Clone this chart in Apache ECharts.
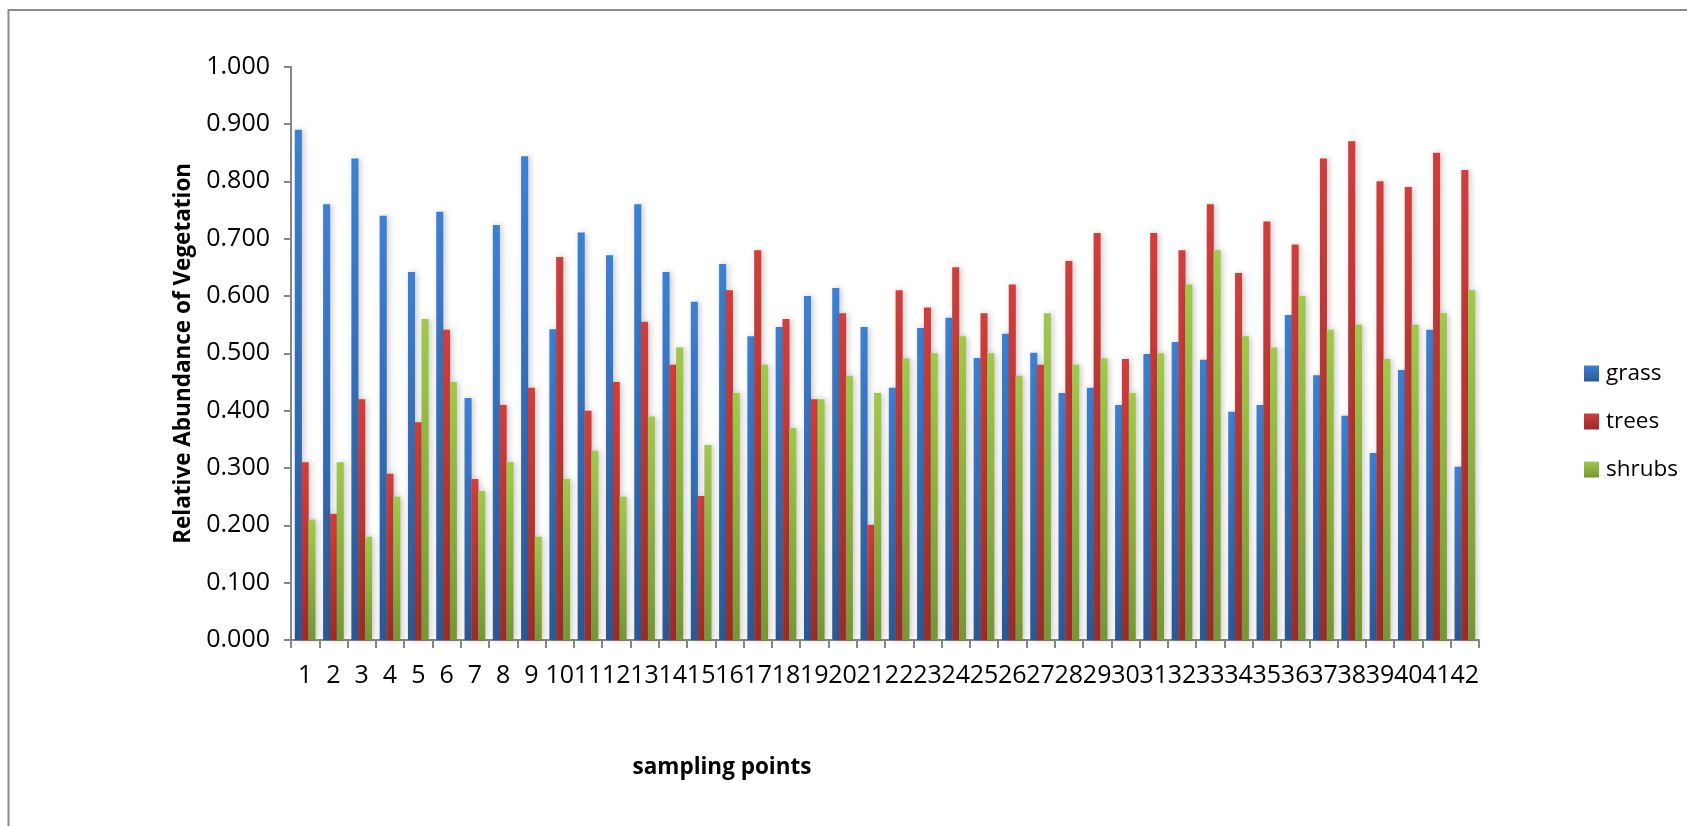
<!DOCTYPE html>
<html>
<head>
<meta charset="utf-8">
<script src="https://cdn.jsdelivr.net/npm/echarts@6/dist/echarts.min.js"></script>
<style>
html,body{margin:0;padding:0;background:#fff;}
#chart{width:1687px;height:826px;}
</style>
</head>
<body>
<div id="chart"></div>
<script>
const categories = ['1','2','3','4','5','6','7','8','9','10','11','12','13','14','15','16','17','18','19','20','21','22','23','24','25','26','27','28','29','30','31','32','33','34','35','36','37','38','39','40','41','42'];
const grass = [0.890,0.760,0.840,0.740,0.642,0.747,0.422,0.724,0.844,0.542,0.711,0.671,0.760,0.642,0.590,0.656,0.530,0.546,0.600,0.614,0.546,0.440,0.544,0.562,0.492,0.534,0.501,0.431,0.440,0.410,0.499,0.520,0.489,0.398,0.410,0.567,0.462,0.391,0.326,0.471,0.541,0.302];
const trees = [0.310,0.220,0.420,0.290,0.380,0.541,0.281,0.410,0.440,0.668,0.400,0.450,0.555,0.480,0.251,0.610,0.680,0.560,0.420,0.570,0.201,0.610,0.580,0.650,0.570,0.620,0.480,0.661,0.710,0.490,0.710,0.680,0.760,0.640,0.730,0.690,0.840,0.870,0.800,0.790,0.850,0.820];
const shrubs = [0.210,0.310,0.180,0.250,0.560,0.450,0.260,0.310,0.180,0.281,0.330,0.250,0.390,0.510,0.340,0.431,0.480,0.370,0.420,0.461,0.431,0.491,0.500,0.530,0.500,0.461,0.570,0.480,0.491,0.431,0.500,0.620,0.680,0.530,0.510,0.600,0.541,0.550,0.490,0.550,0.570,0.610];
const seriesNames = ['grass','trees','shrubs'];

function grad(top, bottom){
  return new echarts.graphic.LinearGradient(0,0,0,1,[{offset:0,color:top},{offset:1,color:bottom}]);
}
const colors = [grad('#3d80d3','#2b5995'), grad('#d13e3b','#9a2d2a'), grad('#a0c94b','#769637')];
const FONT = '"Open Sans", "Liberation Sans", sans-serif';

const chart = echarts.init(document.getElementById('chart'), null, {renderer:'canvas'});
const dataSets = [grass, trees, shrubs];
chart.setOption({
  backgroundColor:'#ffffff',
  animation:false,
  graphic:[{
    type:'rect', shape:{x:8.5,y:10,width:1720,height:900},
    style:{fill:'none',stroke:'#8a8a8a',lineWidth:2}, silent:true
  }],
  legend:{
    orient:'vertical', left:1579, top:357,
    itemWidth:15, itemHeight:16, itemGap:25,
    textStyle:{fontFamily:FONT,fontSize:22.5,color:'#000',padding:[0,0,0,2]},
    icon:'rect',
    data:seriesNames
  },
  grid:{left:291,right:208,top:66.7,bottom:186,containLabel:false},
  xAxis:{
    type:'category', data:categories, boundaryGap:true,
    name:'sampling points', nameLocation:'middle', nameGap:116,
    nameTextStyle:{fontFamily:FONT,fontSize:22.5,fontWeight:'bold',color:'#000',padding:[0,326,0,0]},
    axisLine:{lineStyle:{color:'#878787',width:2}},
    axisTick:{show:true,length:8,lineStyle:{color:'#878787',width:2}},
    axisLabel:{interval:0,fontFamily:FONT,fontSize:25,color:'#000',margin:23},
    splitLine:{show:false}
  },
  yAxis:{
    type:'value', min:0, max:1, interval:0.1,
    name:'Relative Abundance of Vegetation', nameLocation:'middle', nameGap:95,
    nameRotate:90,
    nameTextStyle:{fontFamily:FONT,fontSize:22.5,fontWeight:'bold',color:'#000'},
    axisLine:{show:true,lineStyle:{color:'#878787',width:2}},
    axisTick:{show:true,length:7,lineStyle:{color:'#878787',width:2}},
    axisLabel:{fontFamily:FONT,fontSize:25,color:'#000',margin:21,formatter:v=>v.toFixed(3)},
    splitLine:{show:false}
  },
  series: seriesNames.map((n,i)=>({
    name:n, type:'bar', data:dataSets[i],
    barGap:'-4%', barCategoryGap:'27%',
    itemStyle:{color:colors[i],shadowBlur:6,shadowColor:'rgba(0,0,0,0.22)',shadowOffsetX:2,shadowOffsetY:0}
  }))
});
</script>
</body>
</html>
